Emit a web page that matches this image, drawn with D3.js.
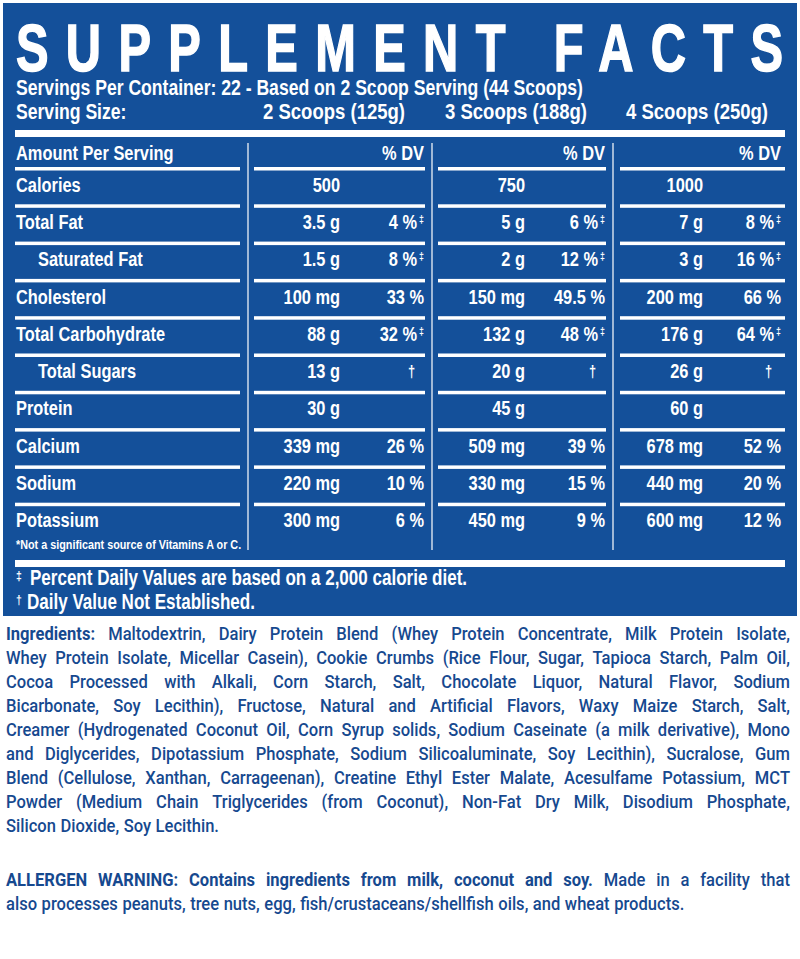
<!DOCTYPE html>
<html><head><meta charset="utf-8">
<script src="https://cdn.jsdelivr.net/npm/d3@7"></script>
<style>body{margin:0;background:#fff}svg{display:block}</style>
</head><body>
<script>
const nutrients = ["Calories","Total Fat","Saturated Fat","Cholesterol","Total Carbohydrate","Total Sugars","Protein","Calcium","Sodium","Potassium"];
const indented = [false,false,true,false,false,true,false,false,false,false];
const servingLabels = ["2 Scoops (125g)","3 Scoops (188g)","4 Scoops (250g)"];
const amounts2 = ["500","3.5 g","1.5 g","100 mg","88 g","13 g","30 g","339 mg","220 mg","300 mg"];
const dv2 = ["","4 %‡","8 %‡","33 %","32 %‡","†","","26 %","10 %","6 %"];
const amounts3 = ["750","5 g","2 g","150 mg","132 g","20 g","45 g","509 mg","330 mg","450 mg"];
const dv3 = ["","6 %‡","12 %‡","49.5 %","48 %‡","†","","39 %","15 %","9 %"];
const amounts4 = ["1000","7 g","3 g","200 mg","176 g","26 g","60 g","678 mg","440 mg","600 mg"];
const dv4 = ["","8 %‡","16 %‡","66 %","64 %‡","†","","52 %","20 %","12 %"];
const ingredientLines = [
"Ingredients: Maltodextrin, Dairy Protein Blend (Whey Protein Concentrate, Milk Protein Isolate,",
"Whey Protein Isolate, Micellar Casein), Cookie Crumbs (Rice Flour, Sugar, Tapioca Starch, Palm Oil,",
"Cocoa Processed with Alkali, Corn Starch, Salt, Chocolate Liquor, Natural Flavor, Sodium",
"Bicarbonate, Soy Lecithin), Fructose, Natural and Artificial Flavors, Waxy Maize Starch, Salt,",
"Creamer (Hydrogenated Coconut Oil, Corn Syrup solids, Sodium Caseinate (a milk derivative), Mono",
"and Diglycerides, Dipotassium Phosphate, Sodium Silicoaluminate, Soy Lecithin), Sucralose, Gum",
"Blend (Cellulose, Xanthan, Carrageenan), Creatine Ethyl Ester Malate, Acesulfame Potassium, MCT",
"Powder (Medium Chain Triglycerides (from Coconut), Non-Fat Dry Milk, Disodium Phosphate,",
"Silicon Dioxide, Soy Lecithin."];
const allergenLines = [
"ALLERGEN WARNING: Contains ingredients from milk, coconut and soy. Made in a facility that",
"also processes peanuts, tree nuts, egg, fish/crustaceans/shellfish oils, and wheat products."];

const W=800,H=959, BLUE="#14509a", TXT="#16498f";
const COND="'Liberation Sans',Arial,sans-serif", SX=0.8;
const svg=d3.select("body").append("svg").attr("width",W).attr("height",H);
svg.append("rect").attr("x",3).attr("y",3).attr("width",794).attr("height",613).attr("fill",BLUE);

const t=(x,y,s,size,anchor="start")=>svg.append("g").attr("transform",`translate(${x},${y}) scale(${SX},1)`)
  .append("text").attr("font-family",COND).attr("font-size",size).attr("font-weight","bold").attr("fill","#fff")
  .attr("text-anchor",anchor).text(s);

svg.append("g").attr("transform","translate(16,71) scale(0.74,1)").append("text")
  .attr("font-family",COND).attr("font-size",66).attr("font-weight","bold").attr("fill","#fff")
  .attr("stroke","#fff").attr("stroke-width",1.5)
  .attr("textLength",767/0.74).attr("lengthAdjust","spacing").text("SUPPLEMENT FACTS");
t(16,95,"Servings Per Container: 22 - Based on 2 Scoop Serving (44 Scoops)",22);
t(16,119,"Serving Size:",22);
const sizeX=[334,516,697];
servingLabels.forEach((s,i)=>t(sizeX[i],119,s,22,"middle").attr("textLength",142/SX).attr("lengthAdjust","spacingAndGlyphs"));
svg.append("rect").attr("x",15).attr("y",130).attr("width",770).attr("height",7).attr("fill","#fff");
svg.append("rect").attr("x",15).attr("y",560).attr("width",770).attr("height",7).attr("fill","#fff");

const y=d3.scaleBand().domain(nutrients).range([166,539]);
const cols=[[15,240],[254,425],[438,606],[620,785]];
[248,432,613].forEach(x=>svg.append("line").attr("x1",x).attr("x2",x).attr("y1",143).attr("y2",550).attr("stroke","#fff").attr("stroke-width",1.2));
nutrients.forEach(d=>{
  cols.forEach(c=>svg.append("rect").attr("x",c[0]).attr("y",y(d)+1).attr("width",c[1]-c[0]).attr("height",3.5).attr("fill","#fff"));
});
const FS=20.5;
t(16,160,"Amount Per Serving",FS);
[424,605,781].forEach(x=>t(x,160,"% DV",FS,"end"));
const amtX=[340,525,703], dvX=[424,605,781];
const A=[amounts2,amounts3,amounts4], D=[dv2,dv3,dv4];
nutrients.forEach((n,i)=>{
  const yy=y(n)+y.bandwidth()/2+7;
  t(indented[i]?38:16,yy,n,FS);
  A.forEach((a,k)=>t(amtX[k],yy,a[i],FS,"end"));
  D.forEach((dd,k)=>{
    const v=dd[i]; if(!v) return;
    if(v==="†"){t(dvX[k]-9,yy-1,v,16,"end");return;}
    const m=v.endsWith("‡");
    t(dvX[k]-(m?7:0),yy,m?v.slice(0,-1):v,FS,"end");
    if(m) t(dvX[k],yy-6,"‡",11,"end");
  });
});
t(16,549,"*Not a significant source of Vitamins A or C.",13.5);
t(16,580,"‡",13); t(30,585,"Percent Daily Values are based on a 2,000 calorie diet.",21.3);
t(16,604,"†",13); t(27,609,"Daily Value Not Established.",21.3);

const BODY="Roboto,'Liberation Sans',sans-serif", BSX=0.92;
function para(lines,y0,boldPrefix){
  lines.forEach((line,li)=>{
    const yy=y0+li*24;
    const words=line.split(" ");
    const els=words.map((w,wi)=>{
      const isBold = li===0 && words.slice(0,wi+1).join(" ").length<=boldPrefix.length;
      const g=svg.append("g");
      g.append("text").attr("font-family",BODY).attr("font-size",18)
        .attr("font-weight",isBold?700:500).attr("fill",TXT).text(w);
      return g;
    });
    const widths=els.map(e=>e.select("text").node().getComputedTextLength()*BSX);
    const total=d3.sum(widths);
    const justify = li<lines.length-1;
    const gap = justify ? (784-total)/(words.length-1) : 4.5;
    let x=6;
    els.forEach((e,i)=>{e.attr("transform",`translate(${x},${yy}) scale(${BSX},1)`); x+=widths[i]+gap;});
  });
}
para(ingredientLines,640,"Ingredients:");
para(allergenLines,886,"ALLERGEN WARNING: Contains ingredients from milk, coconut and soy.");
</script>
</body></html>
